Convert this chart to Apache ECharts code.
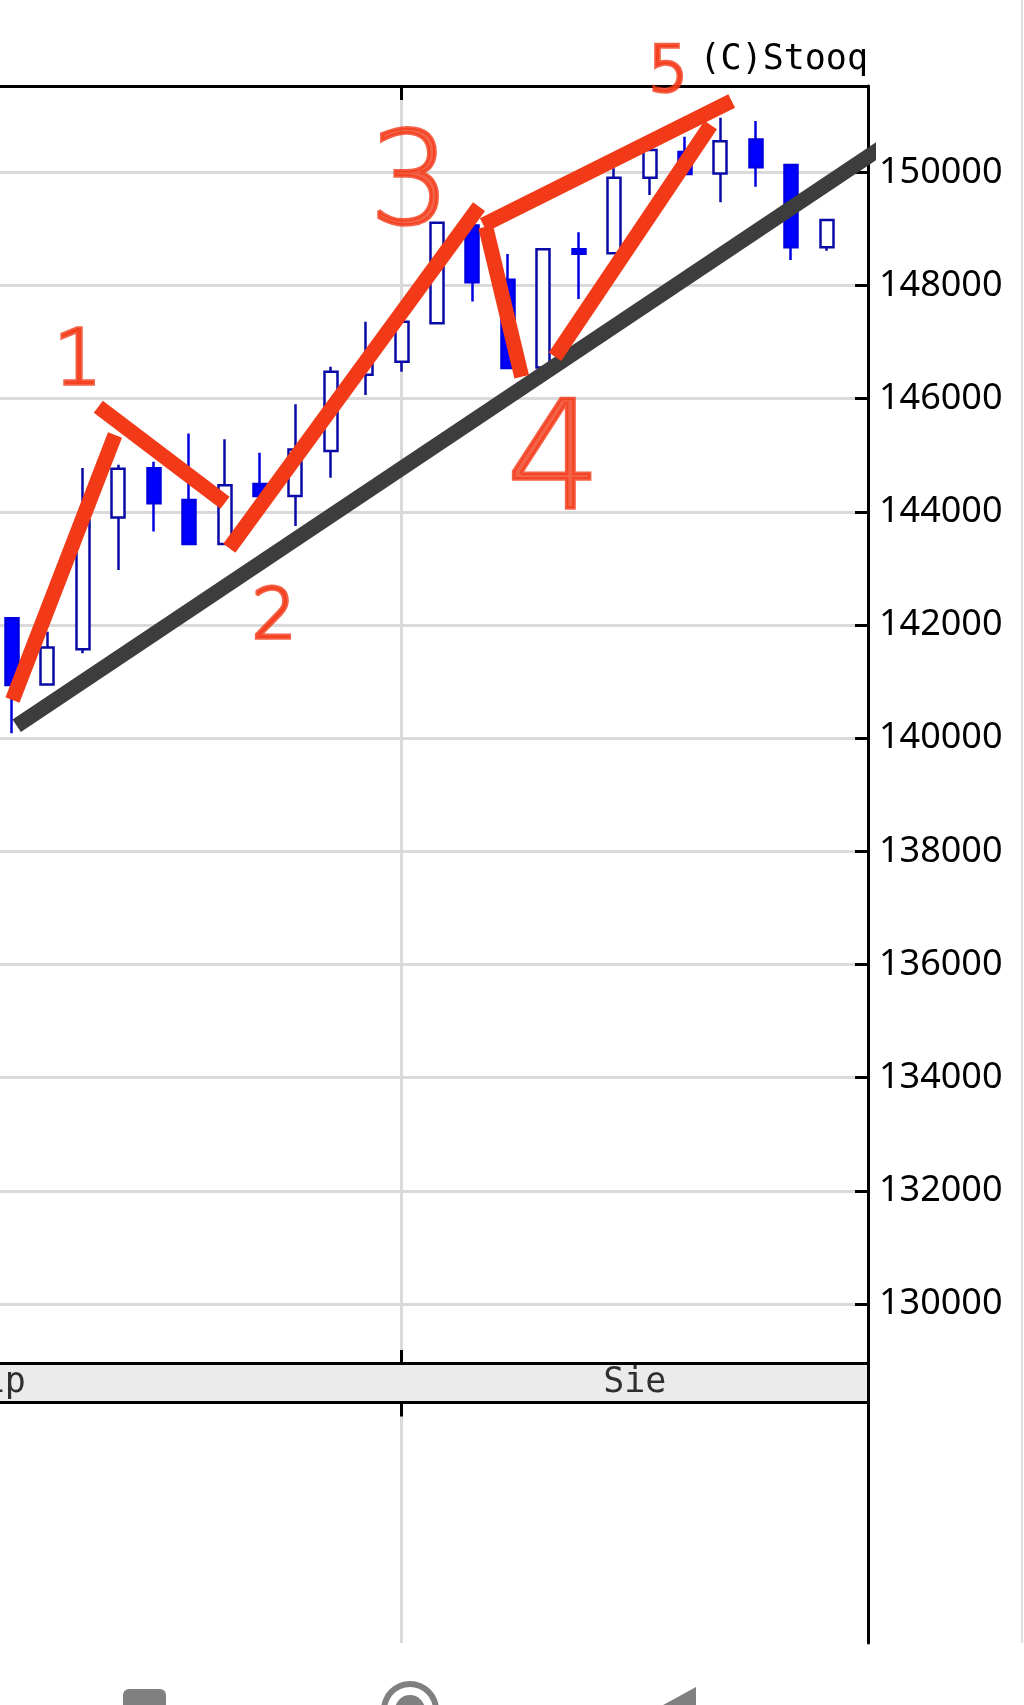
<!DOCTYPE html>
<html>
<head>
<meta charset="utf-8">
<script src="https://cdn.jsdelivr.net/npm/echarts@6/dist/echarts.min.js"></script>
<style>
html,body{margin:0;padding:0;background:#ffffff;}
#chart{width:1024px;height:1705px;}
</style>
</head>
<body>
<div id="chart"></div>
<script>
// ---- data ----
const dates = ['2025-07-17','2025-07-18','2025-07-21','2025-07-22','2025-07-23','2025-07-24','2025-07-25','2025-07-28','2025-07-29','2025-07-30','2025-07-31','2025-08-01','2025-08-04','2025-08-05','2025-08-06','2025-08-07','2025-08-08','2025-08-11','2025-08-12','2025-08-13','2025-08-14','2025-08-15','2025-08-18','2025-08-19'];
const opens  = [142120,140950,141570,143900,144770,144210,143430,144490,144280,145075,146420,146650,147330,149060,148100,146550,148640,148570,149905,150360,149980,150580,150130,148675];
const closes = [140940,141600,143850,144760,144150,143430,144470,144280,145100,146475,146650,147360,149110,148055,146540,148640,148560,149905,150395,149970,150550,150090,148675,149155];
const lows   = [140085,140940,141500,142970,143650,143425,143430,144120,143750,144600,146065,146475,147330,147715,146535,146550,147760,148565,149600,149960,149470,149745,148450,148615];
const highs  = [142130,141880,144775,144830,144885,145385,145280,145045,145900,146565,147360,147370,149115,149110,148555,148645,148940,150070,150450,150630,150965,150905,150130,149160];

// month boundaries (trading-day index) and labels
const monthStarts = [-12, 11];
const monthLabels = ['Lip', 'Sie'];

// y-axis tick labels
const yTicks = [130000,132000,134000,136000,138000,140000,142000,144000,146000,148000,150000];

// hand-drawn annotations, in data coordinates [day index, price]
const trendLine = [[0.133, 140220], [25.316, 150760]];
const redStrokes = [
  [[0.014, 140674], [2.908, 145357]],
  [[2.437, 145857], [6.014, 144161]],
  [[6.135, 143355], [13.185, 149392]],
  [[13.374, 149039], [14.390, 146388]],
  [[13.306, 149069], [20.319, 151260]],
  [[15.330, 146741], [19.726, 150836]]
];
const noteTexts = ['1', '2', '3', '4', '5'];
const notePositions = [[1.863, 146771], [7.397, 142229], [11.236, 149952], [15.302, 145075], [18.521, 151879]];

// ---- axis extents ----
const xMin = -0.3388, xMax = 24.167;
const yMin = 128957, yMax = 151525;

// ---- styles ----
const noteFontSizes = [76, 70, 128, 150, 64];
const RED = '#f23a18';
const GRID_GREY = '#dadada';

const candleData = dates.map((d, i) => [i, opens[i], closes[i], lows[i], highs[i]]);
const monthCenters = monthStarts.map((s, k) => (s + (k + 1 < monthStarts.length ? monthStarts[k + 1] : xMax)) / 2);
const boundaryTicks = monthStarts.filter(v => v >= xMin && v <= xMax);

const blackLine = {onZero: false, lineStyle: {color: '#000', width: 3}};

const series = [{
  type: 'candlestick',
  xAxisIndex: 0, yAxisIndex: 0,
  data: candleData,
  barWidth: 13.5,
  itemStyle: {color: '#ffffff', color0: '#0000ff', borderColor: '#0a0aa6', borderColor0: '#0000e0', borderWidth: 2.5},
  z: 2,
  silent: true
}, {
  type: 'line',
  xAxisIndex: 0, yAxisIndex: 0,
  data: trendLine,
  symbol: 'none',
  clip: false,
  lineStyle: {color: '#3d3d3d', width: 15, cap: 'butt'},
  z: 3,
  silent: true
}];
redStrokes.forEach(seg => series.push({
  type: 'line',
  xAxisIndex: 0, yAxisIndex: 0,
  data: seg,
  symbol: 'none',
  clip: false,
  lineStyle: {color: RED, width: 15, cap: 'butt'},
  z: 4,
  silent: true
}));
series.push({
  type: 'scatter',
  xAxisIndex: 0, yAxisIndex: 0,
  symbolSize: 1,
  clip: false,
  itemStyle: {color: 'transparent'},
  z: 5,
  silent: true,
  data: noteTexts.map((t, k) => ({
    name: t,
    value: notePositions[k],
    label: {fontSize: noteFontSizes[k], offset: [0, Math.round(noteFontSizes[k] * 0.12)]}
  })),
  label: {show: true, position: 'inside', formatter: '{b}', color: RED, fontFamily: 'DejaVu Sans', fontWeight: 200,
          textBorderColor: RED, textBorderWidth: 3.5}
});
// month names inside the date band
series.push({
  type: 'scatter',
  xAxisIndex: 2, yAxisIndex: 1,
  symbolSize: 1,
  clip: false,
  itemStyle: {color: 'transparent'},
  z: 5,
  silent: true,
  data: monthLabels.map((m, k) => ({name: m, value: [monthCenters[k], 0.5]})),
  label: {show: true, position: 'inside', formatter: '{b}', color: '#000', fontFamily: 'DejaVu Sans Mono', fontSize: 35}
});

const chart = echarts.init(document.getElementById('chart'), null, {renderer: 'canvas'});
chart.setOption({
  animation: false,
  backgroundColor: '#ffffff',
  title: {
    text: '(C)Stooq',
    right: 156, top: 42, padding: 0,
    textStyle: {fontFamily: 'DejaVu Sans Mono', fontSize: 35, fontWeight: 'normal', color: '#000'}
  },
  grid: [
    {left: 0, right: 156, top: 86, height: 1277},
    {left: 0, right: 156, top: 1363, height: 39.5, show: true, backgroundColor: '#ebebeb', borderWidth: 0},
    {left: 0, right: 156, top: 1402.5, bottom: 62}
  ],
  xAxis: [{
    gridIndex: 0, type: 'value', min: xMin, max: xMax, position: 'top',
    axisLine: blackLine,
    axisTick: {show: true, customValues: boundaryTicks, inside: true, length: 14, lineStyle: {color: '#000', width: 3}},
    axisLabel: {show: false},
    splitLine: {show: true, lineStyle: {color: GRID_GREY, width: 3}}
  }, {
    gridIndex: 1, type: 'value', min: xMin, max: xMax, position: 'top',
    axisLine: blackLine,
    axisTick: {show: true, customValues: boundaryTicks, inside: false, length: 13, lineStyle: {color: '#000', width: 3}},
    axisLabel: {show: false},
    splitLine: {show: false}
  }, {
    gridIndex: 1, type: 'value', min: xMin, max: xMax, position: 'bottom',
    axisLine: blackLine,
    axisTick: {show: true, customValues: boundaryTicks, inside: false, length: 14, lineStyle: {color: '#000', width: 3}},
    axisLabel: {show: false},
    splitLine: {show: false}
  }, {
    gridIndex: 2, type: 'value', min: xMin, max: xMax, position: 'top',
    axisLine: {show: false, onZero: false},
    axisTick: {show: false, customValues: boundaryTicks},
    axisLabel: {show: false},
    splitLine: {show: true, lineStyle: {color: GRID_GREY, width: 3}}
  }],
  yAxis: [{
    gridIndex: 0, type: 'value', min: yMin, max: yMax, position: 'right',
    axisLine: blackLine,
    axisTick: {show: true, customValues: yTicks, inside: true, length: 13, lineStyle: {color: '#000', width: 3}},
    axisLabel: {show: true, customValues: yTicks, margin: 11, fontFamily: 'Noto Sans', fontSize: 36, color: '#000', formatter: v => String(v)},
    splitLine: {show: true, lineStyle: {color: GRID_GREY, width: 3}}
  }, {
    gridIndex: 1, type: 'value', min: 0, max: 1, position: 'right',
    axisLine: blackLine,
    axisTick: {show: false}, axisLabel: {show: false}, splitLine: {show: false}
  }, {
    gridIndex: 2, type: 'value', min: 0, max: 1, position: 'right',
    axisLine: blackLine,
    axisTick: {show: false}, axisLabel: {show: false}, splitLine: {show: false}
  }],
  graphic: [
    {type: 'line', shape: {x1: 1022, y1: 0, x2: 1022, y2: 1643}, style: {stroke: '#dedede', lineWidth: 2}, silent: true},
    {type: 'rect', shape: {x: 123, y: 1689, width: 43, height: 50, r: 6}, style: {fill: '#808080'}, silent: true},
    {type: 'ring', shape: {cx: 410, cy: 1710, r: 29, r0: 23}, style: {fill: '#808080'}, silent: true},
    {type: 'circle', shape: {cx: 410, cy: 1710, r: 15}, style: {fill: '#808080'}, silent: true},
    {type: 'polygon', shape: {points: [[696, 1687], [696, 1745], [643, 1716]]}, style: {fill: '#808080'}, silent: true}
  ],
  series: series
});
</script>
</body>
</html>
